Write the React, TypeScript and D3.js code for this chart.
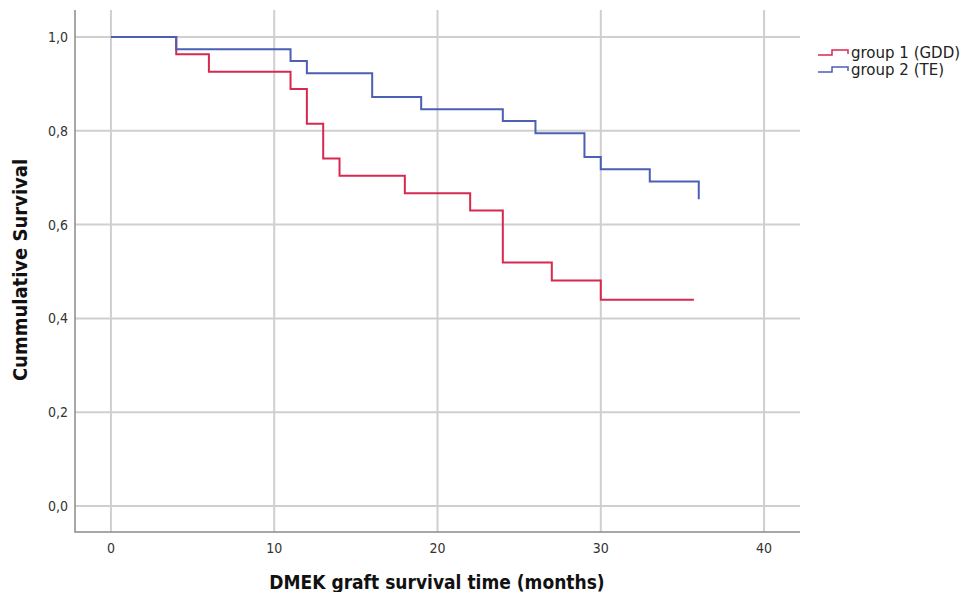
import { useEffect, useRef } from "react"
import * as d3 from "d3"

// survival steps (months, cumulative survival)
const group1Times = [0, 4, 6, 11, 12, 13, 14, 18, 22, 24, 27, 30, 35.7]
const group1Surv = [1.0, 0.963, 0.926, 0.889, 0.815, 0.741, 0.704, 0.667, 0.63, 0.519, 0.481, 0.44, 0.44]
const group2Times = [0, 4, 11, 12, 16, 19, 24, 26, 29, 30, 33, 36]
const group2Surv = [1.0, 0.974, 0.949, 0.923, 0.872, 0.846, 0.821, 0.795, 0.744, 0.718, 0.692, 0.654]

const xTicks = [0, 10, 20, 30, 40]
const yTicks = [0, 0.2, 0.4, 0.6, 0.8, 1.0]
const seriesNames = ["group 1 (GDD)", "group 2 (TE)"]
const seriesColors = ["#d8284f", "#4b5fb4"]

export default function App() {
  const svgRef = useRef<SVGSVGElement>(null)

  useEffect(() => {
    if (!svgRef.current) return
    const svg = d3.select(svgRef.current)
    svg.selectAll("*").remove()

    const left = 75
    const right = 800
    const top = 10
    const bottom = 532

    const x = d3.scaleLinear().domain([-2.2, 42.2]).range([left, right])
    const y = d3.scaleLinear().domain([-0.0554, 1.0576]).range([bottom, top])

    const grid = svg.append("g")
    xTicks.forEach((t) => {
      grid
        .append("line")
        .attr("x1", x(t))
        .attr("x2", x(t))
        .attr("y1", top)
        .attr("y2", bottom)
        .attr("stroke", "#cfcfcf")
        .attr("stroke-width", 2)
    })
    yTicks.forEach((t) => {
      grid
        .append("line")
        .attr("x1", left)
        .attr("x2", right)
        .attr("y1", y(t))
        .attr("y2", y(t))
        .attr("stroke", "#cfcfcf")
        .attr("stroke-width", 2)
    })

    // axis lines
    svg
      .append("path")
      .attr("d", `M${left},${top}V${bottom}H${right}`)
      .attr("fill", "none")
      .attr("stroke", "#8a8a8a")
      .attr("stroke-width", 1.5)

    // tick labels
    xTicks.forEach((t) => {
      svg
        .append("text")
        .attr("x", x(t))
        .attr("y", 553)
        .attr("text-anchor", "middle")
        .attr("font-family", "DejaVu Sans Condensed, DejaVu Sans")
        .attr("font-size", 14)
        .attr("fill", "#333")
        .text(t)
    })
    yTicks.forEach((t) => {
      svg
        .append("text")
        .attr("x", 68)
        .attr("y", y(t))
        .attr("dy", "0.35em")
        .attr("text-anchor", "end")
        .attr("font-family", "DejaVu Sans Condensed, DejaVu Sans")
        .attr("font-size", 14)
        .attr("fill", "#333")
        .text(t.toFixed(1).replace(".", ","))
    })

    // axis titles
    svg
      .append("text")
      .attr("x", 437)
      .attr("y", 589)
      .attr("text-anchor", "middle")
      .attr("font-family", "DejaVu Sans Condensed, DejaVu Sans")
      .attr("font-weight", "bold")
      .attr("font-size", 19)
      .attr("fill", "#111")
      .text("DMEK graft survival time (months)")
    svg
      .append("text")
      .attr("transform", `translate(27, 270) rotate(-90)`)
      .attr("text-anchor", "middle")
      .attr("font-family", "DejaVu Sans Condensed, DejaVu Sans")
      .attr("font-weight", "bold")
      .attr("font-size", 20)
      .attr("fill", "#111")
      .text("Cummulative Survival")

    // survival curves
    const line = d3
      .line<[number, number]>()
      .x((d) => x(d[0]))
      .y((d) => y(d[1]))
      .curve(d3.curveStepAfter)

    const series = [
      group1Times.map((t, i) => [t, group1Surv[i]] as [number, number]),
      group2Times.map((t, i) => [t, group2Surv[i]] as [number, number]),
    ]
    series.forEach((pts, i) => {
      svg
        .append("path")
        .datum(pts)
        .attr("d", line)
        .attr("fill", "none")
        .attr("stroke", seriesColors[i])
        .attr("stroke-width", 2)
    })

    // legend
    const legend = svg.append("g")
    seriesNames.forEach((name, i) => {
      const ly = 55 + i * 17
      legend
        .append("path")
        .attr("d", `M818,${ly}H832V${ly - 5}H848V${ly - 1}`)
        .attr("fill", "none")
        .attr("stroke", seriesColors[i])
        .attr("stroke-width", 1.5)
      legend
        .append("text")
        .attr("x", 851)
        .attr("y", ly - 2)
        .attr("dy", "0.35em")
        .attr("font-family", "DejaVu Sans")
        .attr("font-size", 15)
        .attr("fill", "#222")
        .text(name)
    })
  }, [])

  return (
    <svg
      ref={svgRef}
      width={971}
      height={592}
      style={{ position: "absolute", top: 0, left: 0, background: "#fff" }}
    />
  )
}
